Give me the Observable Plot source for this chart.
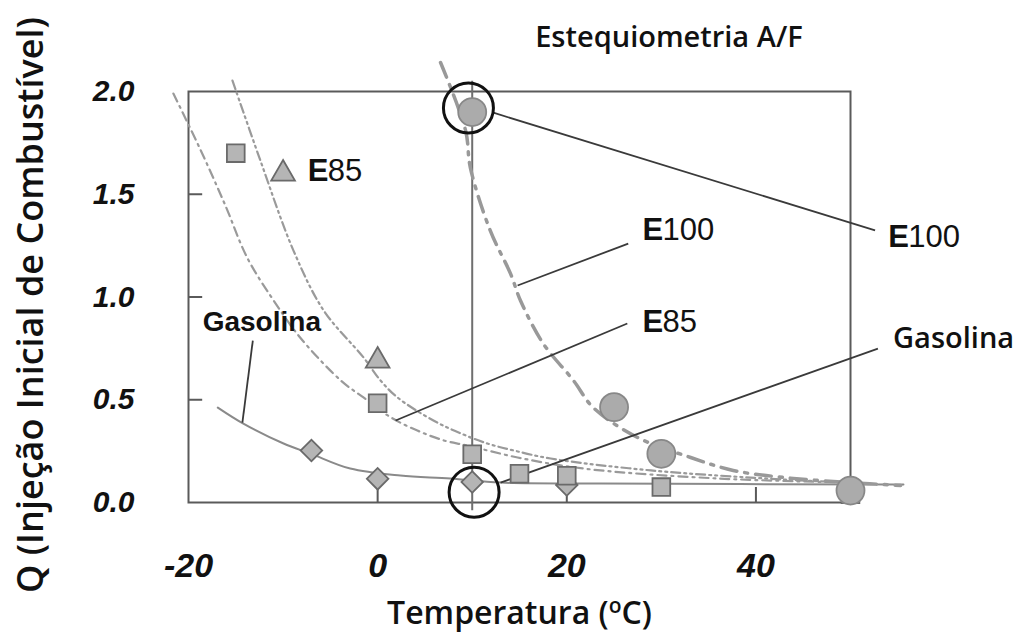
<!DOCTYPE html>
<html>
<head>
<meta charset="utf-8">
<script src="https://cdn.jsdelivr.net/npm/d3@7"></script>
<script src="https://cdn.jsdelivr.net/npm/@observablehq/plot@0.6"></script>
<style>
  body { margin: 0; background: white; }
  #chart svg { display: block; }
</style>
</head>
<body>
<div id="chart"></div>
<script>
// ---- Data ----
const xTicks = [-20, 0, 20, 40];
const yTicks = [0, 0.5, 1.0, 1.5, 2.0];
const xInnerTicks = [0, 20, 40];
const yInnerTicks = [0.5, 1.0, 1.5];

// markers
const squareT = [-15, 0, 10, 15, 20, 30, 50];
const squareQ = [1.70, 0.483, 0.235, 0.14, 0.13, 0.075, 0.04];
const triangleT = [-10, 0];
const triangleQ = [1.60, 0.69];
const diamondT = [-7, 0, 10, 20];
const diamondQ = [0.253, 0.115, 0.10, 0.085];
const circleT = [10, 25, 30, 50];
const circleQ = [1.90, 0.464, 0.237, 0.058];

// highlighted (open black) circles
const ringT = [9.6, 10.2];
const ringQ = [1.92, 0.05];

// fitted curves
const gasT = [-16.9, -14.2, -9.95, -7.1, -2.9, 2.4, 7.7, 13.0, 23.6, 55.6];
const gasQ = [0.462, 0.384, 0.287, 0.238, 0.165, 0.131, 0.117, 0.097, 0.092, 0.088];
const e85aT = [-21.6, -18.7, -16.1, -13.8, -11.0, -8.2, -3.9, -1.5, 1.4, 4.2, 7.0, 9.5, 14.8, 21.8, 35.9, 50];
const e85aQ = [1.990, 1.713, 1.445, 1.192, 0.983, 0.803, 0.594, 0.511, 0.414, 0.350, 0.302, 0.277, 0.219, 0.165, 0.117, 0.097];
const e85bT = [-15.35, -12.4, -8.9, -5.7, -1.5, 0.3, 2.1, 5.9, 8.8, 11.6, 14.4, 18.3, 28.9, 42.9, 50];
const e85bQ = [2.053, 1.664, 1.226, 0.934, 0.706, 0.594, 0.511, 0.399, 0.336, 0.287, 0.253, 0.214, 0.156, 0.112, 0.097];
const e100T = [6.65, 9.3, 9.8, 11.9, 14.05, 15.1, 17.5, 20.7, 22.8, 27.5, 33.1, 37.6, 42.9, 50, 55.3];
const e100Q = [2.141, 1.810, 1.630, 1.324, 1.114, 0.983, 0.774, 0.594, 0.462, 0.316, 0.219, 0.156, 0.122, 0.097, 0.083];

// stoichiometric reference line
const stoichT = [10];
const stoichQ1 = [2.05];
const stoichQ2 = [-0.04];

// leader lines
const leadX1 = [12.15, 26.5, 1.9, 13.0, -13.2];
const leadY1 = [1.898, 1.260, 0.399, 0.097, 0.788];
const leadX2 = [52.6, 14.8, 26.4, 52.9, -14.3];
const leadY2 = [1.324, 1.056, 0.871, 0.749, 0.389];

// annotation labels
const labelPrefix = ["E", "E", "E", "E"];
const labelRest = ["85", "100", "85", "100"];
const labelX = [-7.4, 28.0, 28.0, 54.0];
const labelY = [1.615, 1.324, 0.876, 1.290];
const gasLabelInner = {text: "Gasolina", x: -18.5, y: 0.876};
const gasLabelOuter = {text: "Gasolina", x: 54.5, y: 0.798};
const titleText = {text: "Estequiometria A/F", x: 30.8, y: 2.262};
const xTitle = "Temperatura (oC)";
const yTitle = "Q (Injeção Inicial de Combustível)";

// ---- build tables ----
const zip = (xs, ys) => xs.map((x, i) => ({x, y: ys[i]}));
const squares = zip(squareT, squareQ);
const triangles = zip(triangleT, triangleQ);
const diamonds = zip(diamondT, diamondQ);
const circles = zip(circleT, circleQ);
const rings = zip(ringT, ringQ);
const gas = zip(gasT, gasQ);
const e85a = zip(e85aT, e85aQ);
const e85b = zip(e85bT, e85bQ);
const e100 = zip(e100T, e100Q);
const leaders = leadX1.map((x1, i) => ({x1, y1: leadY1[i], x2: leadX2[i], y2: leadY2[i]}));
const labels = labelPrefix.map((p, i) => ({p, r: labelRest[i], x: labelX[i], y: labelY[i]}));
const stoich = stoichT.map((x, i) => ({x, y1: stoichQ1[i], y2: stoichQ2[i]}));

const markFill = "#b5b5b5";
const markStroke = "#6a6a6a";
const arial = "'Liberation Sans', Arial, sans-serif";
const calibri = "'Open Sans', sans-serif";

const chart = Plot.plot({
  width: 1024,
  height: 639,
  marginLeft: 188,
  marginRight: 174,
  marginTop: 91,
  marginBottom: 137,
  x: {domain: [-20, 50], axis: null},
  y: {domain: [0, 2], axis: null},
  style: {background: "white", overflow: "visible"},
  marks: [
    Plot.frame({stroke: "#5a5a5a", strokeWidth: 2}),
    Plot.ruleY(yInnerTicks, {y: d => d, x1: -20, x2: -18.5, stroke: "#5a5a5a", strokeWidth: 2}),
    Plot.ruleX(xInnerTicks, {x: d => d, y1: 0, y2: 0.073, stroke: "#5a5a5a", strokeWidth: 2}),
    Plot.ruleX(stoich, {x: "x", y1: "y1", y2: "y2", stroke: "#6f6f6f", strokeWidth: 2}),
    Plot.line(gas, {x: "x", y: "y", curve: "catmull-rom", stroke: "#8a8a8a", strokeWidth: 2}),
    Plot.line(e85a, {x: "x", y: "y", curve: "catmull-rom", stroke: "#9a9a9a", strokeWidth: 2.2, strokeDasharray: "9,5,2,5"}),
    Plot.line(e85b, {x: "x", y: "y", curve: "catmull-rom", stroke: "#9a9a9a", strokeWidth: 2.2, strokeDasharray: "9,4,2,4,2,4"}),
    Plot.line(e100, {x: "x", y: "y", curve: "catmull-rom", stroke: "#999999", strokeWidth: 3.5, strokeDasharray: "16,8,3,8"}),
    Plot.link(leaders, {x1: "x1", y1: "y1", x2: "x2", y2: "y2", stroke: "#3a3a3a", strokeWidth: 1.8}),
    Plot.dot(diamonds, {x: "x", y: "y", symbol: "square", rotate: 45, r: 8.6, fill: markFill, stroke: markStroke, strokeWidth: 1.8}),
    Plot.dot(squares, {x: "x", y: "y", symbol: "square", r: 10, fill: markFill, stroke: markStroke, strokeWidth: 1.8}),
    Plot.dot(triangles, {x: "x", y: "y", symbol: "triangle", r: 8.8, fill: markFill, stroke: markStroke, strokeWidth: 1.8}),
    Plot.dot(circles, {x: "x", y: "y", r: 14, fill: "#ababab", stroke: "#888", strokeWidth: 1.8}),
    Plot.dot(rings, {x: "x", y: "y", r: 25, fill: "none", stroke: "#111", strokeWidth: 3}),
    // annotation labels: bold "E" + regular digits
    Plot.text(labels, {x: "x", y: "y", text: "p", textAnchor: "start", fontFamily: arial, fontWeight: "bold", fontSize: 31, fill: "#111"}),
    Plot.text(labels, {x: "x", y: "y", text: "r", textAnchor: "start", dx: 20, fontFamily: arial, fontWeight: "normal", fontSize: 31, fill: "#111"}),
    Plot.text([gasLabelInner], {x: "x", y: "y", text: "text", textAnchor: "start", fontFamily: arial, fontWeight: "bold", fontSize: 28, fill: "#111"}),
    Plot.text([gasLabelOuter], {x: "x", y: "y", text: "text", textAnchor: "start", fontFamily: calibri, fontWeight: 600, fontSize: 29, fill: "#111"}),
    Plot.text([titleText], {x: "x", y: "y", text: "text", fontFamily: calibri, fontWeight: 600, fontSize: 29, fill: "#111"}),
    // axes
    Plot.axisX(xTicks, {tickSize: 0, tickPadding: 50, tickFormat: d => String(d), fontFamily: arial, fontWeight: "bold", fontStyle: "italic", fontSize: 34, fill: "#111"}),
    Plot.axisY(yTicks, {tickSize: 0, tickPadding: 54, tickFormat: d => d.toFixed(1), fontFamily: arial, fontWeight: "bold", fontStyle: "italic", fontSize: 30, fill: "#111"}),
    Plot.text([xTitle], {frameAnchor: "bottom", lineAnchor: "middle", dy: 111, fontFamily: calibri, fontWeight: 600, fontSize: 32, fill: "#111"}),
    Plot.text([yTitle], {frameAnchor: "left", textAnchor: "middle", dx: -157, dy: 8, rotate: -90, fontFamily: calibri, fontWeight: 600, fontSize: 36, fill: "#111"})
  ]
});
document.getElementById("chart").appendChild(chart);

// superscript "o" in the x title
chart.querySelectorAll("text").forEach(t => {
  if (t.textContent === xTitle) {
    t.innerHTML = 'Temperatura (<tspan dy="-11" font-size="21">o</tspan><tspan dy="11">C)</tspan>';
  }
});
</script>
</body>
</html>
